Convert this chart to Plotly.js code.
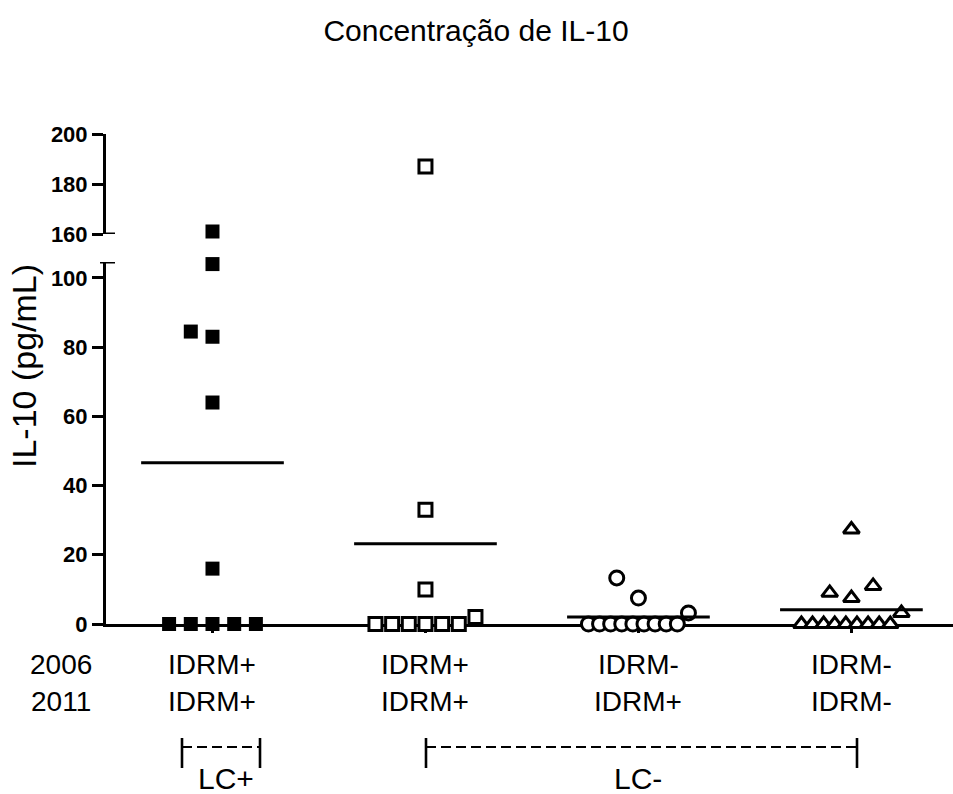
<!DOCTYPE html>
<html>
<head>
<meta charset="utf-8">
<script src="https://cdn.plot.ly/plotly-3.0.1.min.js"></script>
<style>html,body{margin:0;padding:0;background:#fff;}</style>
</head>
<body>
<div id="chart" style="width:953px;height:794px;"></div>
<script>
// ---------------- data ----------------
const categories = ['IDRM+/IDRM+ (LC+)', 'IDRM+/IDRM+ (LC-)', 'IDRM-/IDRM+ (LC-)', 'IDRM-/IDRM- (LC-)'];
const labels2006 = ['IDRM+', 'IDRM+', 'IDRM-', 'IDRM-'];
const labels2011 = ['IDRM+', 'IDRM+', 'IDRM+', 'IDRM-'];
const rowLabels = ['2006', '2011'];
const groupLC = ['LC+', 'LC-'];

const il10_g1 = [161, 104, 84.5, 83, 64, 16, 0, 0, 0, 0, 0];
const il10_g2 = [187, 33, 10, 2, 0, 0, 0, 0, 0, 0];
const il10_g3 = [13.3, 7.5, 3.2, 0, 0, 0, 0, 0, 0, 0, 0, 0];
const il10_g4 = [27.3, 11, 9, 7.5, 3.2, 0, 0, 0, 0, 0, 0, 0, 0, 0];

const lowerTicks = [0, 20, 40, 60, 80, 100];
const upperTicks = [160, 180, 200];

// ---------------- geometry helpers ----------------
const W = 953, H = 794;
const M = {l: 106, r: 0, t: 134, b: 170};
const plotW = W - M.l - M.r, plotH = H - M.t - M.b;
const xRange = [-0.5, 3.477];
const unitPx = plotW / (xRange[1] - xRange[0]);
const lowerRange = [0, 104.6];
const upperRange = [160, 200];
const lowerDomain = [0, 362 / plotH];
const upperDomain = [390 / plotH, 1];
const px2paperX = px => (px - M.l) / plotW;
const px2paperY = py => (H - M.b - py) / plotH;

// beeswarm-like placement (GraphPad style)
function swarm(vals, center) {
  const v = vals.slice().sort((a, b) => a - b);
  const rows = [];
  v.forEach(val => {
    const last = rows[rows.length - 1];
    if (last && val - last[0] < 7 && !(last[0] < 150 && val >= 150)) last.push(val);
    else rows.push([val]);
  });
  const xs = [], ys = [];
  const order = [0, -1, 1, -2, 2];
  rows.forEach(row => {
    const n = row.length;
    const s = Math.min(21.7, n > 1 ? 100 / (n - 1) : 21.7) / unitPx;
    row.forEach((val, i) => {
      const off = n <= 5 ? order[i] * s : (i - (n - 1) / 2) * s;
      xs.push(center + off);
      ys.push(val);
    });
  });
  return {x: xs, y: ys};
}

const groupsData = [il10_g1, il10_g2, il10_g3, il10_g4];
const markerStyles = [
  {symbol: 'square', size: 14, color: '#000', line: {color: '#000', width: 0}},
  {symbol: 'square', size: 13, color: '#fff', line: {color: '#000', width: 3}},
  {symbol: 'circle', size: 14, color: '#fff', line: {color: '#000', width: 3}},
  {symbol: 'triangle-up', size: 14, color: '#fff', line: {color: '#000', width: 3}}
];

const traces = [];
groupsData.forEach((vals, gi) => {
  const sw = swarm(vals, gi);
  const lo = {x: [], y: []}, hi = {x: [], y: []};
  sw.y.forEach((val, i) => {
    const t = val >= 150 ? hi : lo;
    t.x.push(sw.x[i]); t.y.push(val);
  });
  traces.push({type: 'scatter', mode: 'markers', x: lo.x, y: lo.y, xaxis: 'x', yaxis: 'y',
    marker: markerStyles[gi], cliponaxis: false, showlegend: false, hoverinfo: 'y'});
  if (hi.x.length) traces.push({type: 'scatter', mode: 'markers', x: hi.x, y: hi.y, xaxis: 'x', yaxis: 'y2',
    marker: markerStyles[gi], cliponaxis: false, showlegend: false, hoverinfo: 'y'});
});
groupsData.forEach((vals, gi) => {
  const mean = vals.reduce((a, b) => a + b, 0) / vals.length;
  traces.push({type: 'scatter', mode: 'lines', x: [gi - 0.335, gi + 0.335], y: [mean, mean],
    xaxis: 'x', yaxis: 'y', line: {color: '#000', width: 3}, cliponaxis: false, showlegend: false, hoverinfo: 'skip'});
});

const FONT = 'Liberation Sans, Arial, Helvetica, sans-serif';
const axisCommon = {
  showline: true, linecolor: '#000', linewidth: 3, ticks: 'outside', tickcolor: '#000',
  tickwidth: 3, ticklen: 11, showgrid: false, zeroline: false, anchor: 'x', layer: 'below traces',
  tickfont: {family: FONT, size: 22, color: '#000', weight: 'bold'}, fixedrange: true
};

const annotations = [];
// category labels
categories.forEach((c, i) => {
  annotations.push({xref: 'x', yref: 'paper', x: i, y: px2paperY(664), text: labels2006[i], showarrow: false,
    font: {family: FONT, size: 28, color: '#000'}, xanchor: 'center', yanchor: 'middle'});
  annotations.push({xref: 'x', yref: 'paper', x: i, y: px2paperY(701), text: labels2011[i], showarrow: false,
    font: {family: FONT, size: 28, color: '#000'}, xanchor: 'center', yanchor: 'middle'});
});
rowLabels.forEach((r, i) => {
  annotations.push({xref: 'paper', yref: 'paper', x: px2paperX(61), y: px2paperY(i === 0 ? 664 : 701), text: r,
    showarrow: false, font: {family: FONT, size: 28, color: '#000'}, xanchor: 'center', yanchor: 'middle'});
});
// LC labels
annotations.push({xref: 'paper', yref: 'paper', x: px2paperX(226), y: px2paperY(778), text: groupLC[0], showarrow: false,
  font: {family: FONT, size: 30, color: '#000'}, xanchor: 'center', yanchor: 'middle'});
annotations.push({xref: 'x', yref: 'paper', x: 2, y: px2paperY(778), text: groupLC[1], showarrow: false,
  font: {family: FONT, size: 30, color: '#000'}, xanchor: 'center', yanchor: 'middle'});
// y title
annotations.push({xref: 'paper', yref: 'paper', x: px2paperX(24), y: px2paperY(366), text: 'IL-10 (pg/mL)', textangle: -90,
  showarrow: false, font: {family: FONT, size: 34, color: '#000'}, xanchor: 'center', yanchor: 'middle'});

const shapes = [];
const line = (x0, y0, x1, y1, w, dash, xref, yref) => ({type: 'line', xref: xref || 'paper', yref: yref || 'paper',
  x0, y0, x1, y1, line: {color: '#000', width: w, dash: dash || 'solid'}});
// axis break caps
shapes.push(line(px2paperX(100), lowerRange[1], px2paperX(115), lowerRange[1], 3, null, 'paper', 'y'));
shapes.push(line(px2paperX(106), upperRange[0], px2paperX(115), upperRange[0], 3, null, 'paper', 'y2'));
// LC brackets
const bracket = (xa, xb) => {
  shapes.push(line(px2paperX(xa), px2paperY(747), px2paperX(xb), px2paperY(747), 2.2, '10px,5px'));
  shapes.push(line(px2paperX(xa), px2paperY(738), px2paperX(xa), px2paperY(768), 2.6));
  shapes.push(line(px2paperX(xb), px2paperY(738), px2paperX(xb), px2paperY(768), 2.6));
};
bracket(182, 260);
bracket(426, 857);

const layout = {
  width: W, height: H, margin: M, paper_bgcolor: '#fff', plot_bgcolor: 'rgba(0,0,0,0)',
  showlegend: false,
  title: {text: 'Concentração de IL-10', x: 476 / W, xref: 'container', xanchor: 'center',
    y: 1 - 30 / H, yref: 'container', yanchor: 'middle', font: {family: FONT, size: 30, color: '#000'}},
  xaxis: {range: xRange, showline: true, linecolor: '#000', linewidth: 3, ticks: 'outside', ticklen: 6,
    tickwidth: 2.4, tickcolor: '#000', tickvals: [0, 1, 2, 3], ticktext: categories, showticklabels: false,
    showgrid: false, zeroline: false, anchor: 'y', layer: 'below traces', fixedrange: true},
  yaxis: Object.assign({}, axisCommon, {domain: lowerDomain, range: lowerRange, tickvals: lowerTicks}),
  yaxis2: Object.assign({}, axisCommon, {domain: upperDomain, range: upperRange, tickvals: upperTicks}),
  annotations, shapes
};

Plotly.newPlot('chart', traces, layout, {displayModeBar: false, staticPlot: true});
</script>
</body>
</html>
